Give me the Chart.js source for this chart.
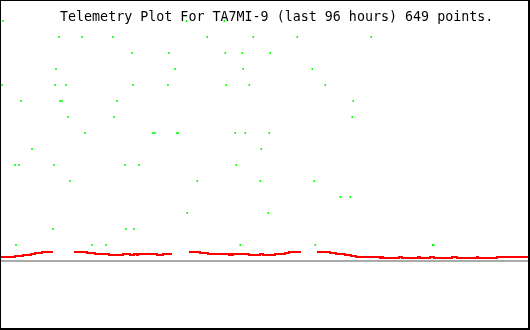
<!DOCTYPE html>
<html>
<head>
<meta charset="utf-8">
<script src="https://cdn.jsdelivr.net/npm/chart.js@4/dist/chart.umd.min.js"></script>
<style>
  body { margin: 0; background: #fff; }
  #wrap { position: relative; width: 530px; height: 330px; background: #fff; }
  #plot { position: absolute; left: 1px; top: 1px; }
  #frame { position: absolute; left: 0; top: 0; width: 530px; height: 330px; box-sizing: border-box;
           border-style: solid; border-color: #000; border-width: 1px 2px 2px 1px; pointer-events: none; }
  #title { position: absolute; left: 60px; top: 9px; font-family: "DejaVu Sans Mono", monospace;
           font-size: 13.33px; line-height: 16px; color: #000; white-space: pre; }
</style>
</head>
<body>
<div id="wrap">
  <canvas id="plot" width="528" height="328"></canvas>
  <div id="frame"></div>
  <div id="title">Telemetry Plot For TA7MI-9 (last 96 hours) 649 points.</div>
</div>
<script>
// hours since start of the 96 h window, and value level
const greenHours = [0.18, 0.36, 2.55, 2.73, 3.27, 3.64, 5.64, 9.45, 9.64, 9.82, 10.0, 10.55, 10.73, 11.09,
  11.82, 12.18, 12.55, 14.73, 15.27, 16.55, 19.09, 20.36, 20.55, 21.09, 22.55, 22.73, 23.82, 24.0, 24.18,
  25.09, 27.64, 28.0, 30.36, 30.55, 31.64, 32.0, 32.18, 33.76, 33.87, 35.69, 37.51, 40.6, 40.78, 40.96,
  42.6, 42.78, 43.51, 43.87, 44.05, 44.42, 45.15, 45.87, 47.15, 47.33, 48.6, 48.78, 48.96, 53.87, 56.6,
  56.96, 57.15, 58.96, 61.69, 63.51, 63.87, 64.05, 67.33, 78.49, 78.67];
const greenLevel = [11, 15, 6, 1, 6, 10, 7, 2, 6, 11, 12, 14, 10, 10,
  11, 9, 5, 14, 8, 1, 1, 14, 9, 10, 6, 2, 13, 11, 2,
  6, 8, 8, 11, 13, 12, 8, 8, 15, 3, 5, 14, 15, 13, 11,
  8, 6, 1, 13, 12, 8, 11, 14, 5, 7, 3, 8, 13, 14, 12,
  5, 1, 11, 4, 4, 9, 10, 14, 1, 1];

const redHours = [0, 2.55, 4.0, 5.45, 6.18, 7.45, 9.45, 9.5, 13.27, 15.64, 17.09, 19.64, 22.18, 23.45,
  24.18, 24.73, 24.91, 28.36, 29.45, 31.09, 31.1, 34.18, 36.18, 37.64, 41.45, 41.64, 41.82, 42.18, 45.09,
  47.09, 47.64, 49.82, 51.64, 52.36, 54.55, 54.6, 57.45, 59.82, 60.91, 62.55, 63.64, 64.55, 68.91, 69.27,
  69.45, 72.36, 72.91, 75.82, 76.18, 78.0, 78.73, 82.0, 82.91, 86.55, 86.73, 90.18, 96.0];
const redLevel = [0.25, 0.3125, 0.375, 0.4375, 0.5, 0.5625, 0.5625, null, 0.5625, 0.5, 0.4375, 0.375, 0.4375, 0.375,
  0.4375, 0.375, 0.4375, 0.375, 0.4375, 0.4375, null, 0.5625, 0.5, 0.4375, 0.375, 0.4375, 0.375, 0.4375, 0.375,
  0.4375, 0.375, 0.4375, 0.5, 0.5625, 0.5625, null, 0.5625, 0.5, 0.4375, 0.375, 0.3125, 0.25, 0.1875, 0.25,
  0.1875, 0.25, 0.1875, 0.25, 0.1875, 0.25, 0.1875, 0.25, 0.1875, 0.25, 0.1875, 0.25, 0.25];

const baseHours = [0, 96];
const baseLevel = [0, 0];

const pts = (xs, ys) => xs.map((x, i) => ({ x: x, y: ys[i] }));

new Chart(document.getElementById('plot'), {
  type: 'scatter',
  data: {
    datasets: [
      {
        data: pts(baseHours, baseLevel),
        showLine: true, borderColor: '#aaaaaa', borderWidth: 2, pointRadius: 0
      },
      {
        data: pts(redHours, redLevel),
        showLine: true, stepped: true, spanGaps: false,
        borderColor: '#ff0000', borderWidth: 2, pointRadius: 0
      },
      {
        data: pts(greenHours, greenLevel),
        showLine: false, pointStyle: 'line', rotation: 90,
        pointRadius: 1, pointBorderWidth: 1.5, pointBorderColor: '#00ff00', pointBackgroundColor: '#00ff00'
      }
    ]
  },
  options: {
    responsive: false,
    animation: false,
    events: [],
    layout: { padding: 0, autoPadding: false },
    plugins: { legend: { display: false }, tooltip: { enabled: false } },
    scales: {
      x: { type: 'linear', min: 0, max: 96, display: false },
      y: { type: 'linear', min: -4.25, max: 16.25, display: false }
    }
  }
});
</script>
</body>
</html>
